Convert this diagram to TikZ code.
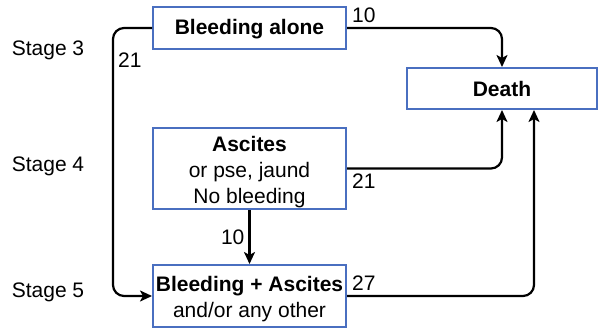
\documentclass[tikz,border=0pt]{standalone}
\usepackage{fontspec}
\setmainfont{Liberation Sans}
\usepackage{tikz}
\usetikzlibrary{arrows.meta,calc,positioning}
\definecolor{boxblue}{HTML}{4A6FC0}

\begin{document}
\begin{tikzpicture}[x=1pt,y=-1pt,
  stagebox/.style={draw=boxblue,line width=2pt,fill=white,align=center,
    minimum width=193pt,inner sep=0pt,font=\fontsize{21}{26}\selectfont},
  flow/.style={line width=2.2pt,rounded corners=11pt,-{Stealth[length=12pt,width=11pt,inset=3pt]}},
  cnt/.style={font=\fontsize{21}{25}\selectfont,inner sep=4pt},
  stg/.style={font=\fontsize{21}{25}\selectfont}]
  \useasboundingbox (0,0) rectangle (599,329);
  % stage labels
  \node[stg] (s3) at (48,50) {Stage 3};
  \node[stg] (s4) at (48,166) {Stage 4};
  \node[stg] (s5) at (48,292) {Stage 5};
  % boxes
  \node[stagebox,minimum height=42pt] (alone) at (249.5,28) {\rule{0pt}{18pt}\textbf{Bleeding alone}};
  \node[stagebox,minimum width=190pt,minimum height=41pt] (death) at (502,88.5) {\textbf{Death}};
  \node[stagebox,minimum height=81pt] (ascites) at (249.5,168.5)
    {\rule{0pt}{23pt}\textbf{Ascites}\\or pse, jaund\\No bleeding};
  \node[stagebox,minimum height=62pt] (both) at (249.5,296)
    {\rule{0pt}{21pt}\textbf{Bleeding + Ascites}\\and/or any other};
  % transitions
  \draw[flow] (alone.east) node[cnt,anchor=south west] {10} -| (death.north);
  \draw[flow] (alone.west) -| node[cnt,pos=0.56,anchor=west] {21}
    ([xshift=-39pt]both.west) -- (both.west);
  \draw[flow] (ascites.east) node[cnt,anchor=north west] {21} -| (death.south);
  \draw[flow] (both.east) node[cnt,anchor=south west] {27} -| ([xshift=32pt]death.south);
  \draw[flow] (ascites.south) -- node[cnt,left] {10} (both.north);
\end{tikzpicture}
\end{document}
